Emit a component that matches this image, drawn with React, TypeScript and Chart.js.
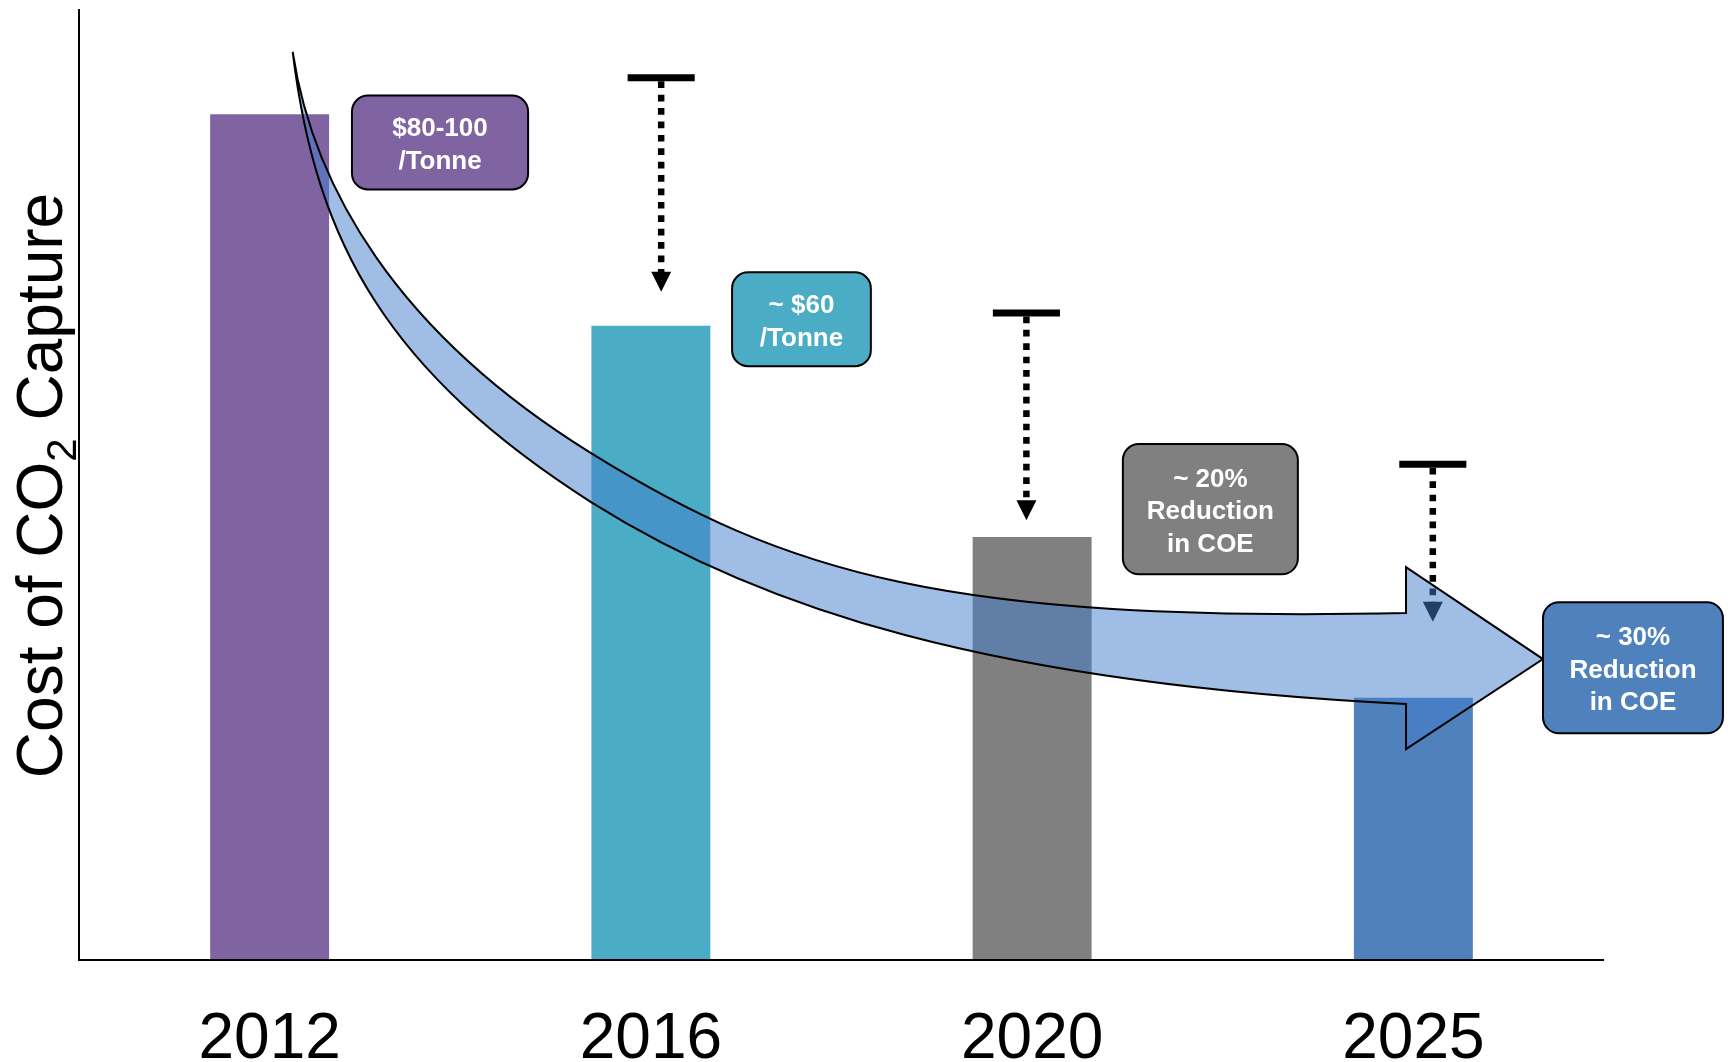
import React, { useEffect, useRef } from 'react';
import { Chart, registerables } from 'chart.js';

Chart.register(...registerables);

// ---- data ----
const categories = ['2012', '2016', '2020', '2025'];
const costValues = [100, 75, 50, 31];
const barColors = ['#8064A2', '#4BACC6', '#808080', '#4F81BD'];
const calloutTexts = [
  ['$80-100', '/Tonne'],
  ['~ $60', '/Tonne'],
  ['~ 20%', 'Reduction', 'in COE'],
  ['~ 30%', 'Reduction', 'in COE'],
];
const yTitleParts = ['Cost of CO', '2', ' Capture'];

// ---- annotation geometry, in (category index, value) units ----
const calloutBoxes = [
  { i0: 0.216, i1: 0.678, vTop: 102.2, vBot: 91.1 },
  { i0: 1.213, i1: 1.577, vTop: 81.3, vBot: 70.2 },
  { i0: 2.238, i1: 2.697, vTop: 61.0, vBot: 45.6 },
  { i0: 3.34, i1: 3.812, vTop: 42.3, vBot: 26.8 },
];
const targetMarks = [
  { i: 1.027, half: 0.088, vTop: 104.3, vTip: 79.0 },
  { i: 1.985, half: 0.088, vTop: 76.5, vTip: 52.0 },
  { i: 3.051, half: 0.088, vTop: 58.6, vTip: 40.0 },
];
// upper edge: start, then two cubic segments [c1, c2, end]
const arrowStart = [0.0605, 107.36];
const arrowUpperSegs = [
  [[0.1133, 91.56], [0.3296, 74.27], [0.843, 59.93]],
  [[1.357, 45.57], [1.7775, 39.93], [2.9807, 41.02]],
];
// lower edge, drawn from the arrow end back to the start
const arrowLowerEnd = [2.9807, 30.26];
const arrowLowerSegsBack = [
  [[1.8845, 32.73], [1.2852, 41.58], [0.843, 54.14]],
  [[0.3144, 69.39], [0.1214, 84.52], [0.0605, 107.36]],
];
const arrowHead = { i: 2.9807, vNotchTop: 46.45, vNotchBot: 24.94, tipI: 3.34, tipV: 35.58 };

const FONT = "'Liberation Sans', Arial, Helvetica, sans-serif";

const annotationPlugin = {
  id: 'annotations',
  afterDatasetsDraw(chart: any) {
    const { ctx, chartArea: ca } = chart;
    const xs = chart.scales.x;
    const ys = chart.scales.y;
    const px = (i: number) => xs.getPixelForValue(i);
    const py = (v: number) => ys.getPixelForValue(v);

    ctx.save();

    // axes lines
    ctx.strokeStyle = '#000';
    ctx.lineWidth = 2;
    ctx.beginPath();
    ctx.moveTo(ca.left, ca.top - 2);
    ctx.lineTo(ca.left, ca.bottom);
    ctx.lineTo(ca.right, ca.bottom);
    ctx.stroke();

    // x labels
    ctx.fillStyle = '#000';
    ctx.font = `64px ${FONT}`;
    ctx.textAlign = 'center';
    ctx.textBaseline = 'alphabetic';
    categories.forEach((c, i) => ctx.fillText(c, px(i), ca.bottom + 98));

    // y title with subscript
    ctx.save();
    ctx.translate(62, (ca.top + ca.bottom) / 2);
    ctx.rotate(-Math.PI / 2);
    ctx.textAlign = 'left';
    const mainFont = `64px ${FONT}`;
    const subFont = `42px ${FONT}`;
    ctx.font = mainFont;
    const w0 = ctx.measureText(yTitleParts[0]).width;
    const w2 = ctx.measureText(yTitleParts[2]).width;
    ctx.font = subFont;
    const w1 = ctx.measureText(yTitleParts[1]).width;
    const total = w0 + w1 + w2;
    let cx = -total / 2;
    ctx.font = mainFont;
    ctx.fillText(yTitleParts[0], cx, 0);
    cx += w0;
    ctx.font = subFont;
    ctx.fillText(yTitleParts[1], cx, 14);
    cx += w1;
    ctx.font = mainFont;
    ctx.fillText(yTitleParts[2], cx, 0);
    ctx.restore();

    // target markers with dotted arrows
    targetMarks.forEach((m) => {
      const x = px(m.i);
      const yT = py(m.vTop);
      const yTip = py(m.vTip);
      ctx.strokeStyle = '#000';
      ctx.fillStyle = '#000';
      ctx.lineWidth = 7;
      ctx.setLineDash([]);
      ctx.beginPath();
      ctx.moveTo(px(m.i - m.half), yT);
      ctx.lineTo(px(m.i + m.half), yT);
      ctx.stroke();
      ctx.lineWidth = 6.5;
      ctx.setLineDash([6.7, 6.7]);
      ctx.beginPath();
      ctx.moveTo(x, yT + 3.5);
      ctx.lineTo(x, yTip - 19);
      ctx.stroke();
      ctx.setLineDash([]);
      ctx.beginPath();
      ctx.moveTo(x - 10, yTip - 20);
      ctx.lineTo(x + 10, yTip - 20);
      ctx.lineTo(x, yTip);
      ctx.closePath();
      ctx.fill();
    });

    // big curved arrow
    const bez = (seg: number[][]) =>
      ctx.bezierCurveTo(px(seg[0][0]), py(seg[0][1]), px(seg[1][0]), py(seg[1][1]), px(seg[2][0]), py(seg[2][1]));
    ctx.beginPath();
    ctx.moveTo(px(arrowStart[0]), py(arrowStart[1]));
    arrowUpperSegs.forEach(bez);
    ctx.lineTo(px(arrowHead.i), py(arrowHead.vNotchTop));
    ctx.lineTo(px(arrowHead.tipI), py(arrowHead.tipV));
    ctx.lineTo(px(arrowHead.i), py(arrowHead.vNotchBot));
    ctx.lineTo(px(arrowLowerEnd[0]), py(arrowLowerEnd[1]));
    arrowLowerSegsBack.forEach(bez);
    ctx.closePath();
    ctx.fillStyle = 'rgba(66,126,204,0.5)';
    ctx.fill();
    ctx.strokeStyle = '#000';
    ctx.lineWidth = 2;
    ctx.lineJoin = 'miter';
    ctx.stroke();

    // callout boxes
    calloutBoxes.forEach((b, k) => {
      const x0 = px(b.i0);
      const x1 = px(b.i1);
      const y0 = py(b.vTop);
      const y1 = py(b.vBot);
      ctx.beginPath();
      (ctx as any).roundRect(x0, y0, x1 - x0, y1 - y0, 16);
      ctx.fillStyle = barColors[k];
      ctx.fill();
      ctx.strokeStyle = '#000';
      ctx.lineWidth = 2;
      ctx.stroke();
      const lines = calloutTexts[k];
      const cxm = (x0 + x1) / 2;
      const cym = (y0 + y1) / 2 + 3;
      const lh = 32.5;
      ctx.fillStyle = '#fff';
      ctx.font = `bold 26px ${FONT}`;
      ctx.textAlign = 'center';
      ctx.textBaseline = 'middle';
      lines.forEach((t, j) => {
        ctx.fillText(t, cxm, cym + (j - (lines.length - 1) / 2) * lh);
      });
    });

    ctx.restore();
  },
};

export default function App() {
  const canvasRef = useRef<HTMLCanvasElement | null>(null);

  useEffect(() => {
    document.body.style.margin = '0';
    const canvas = canvasRef.current;
    if (!canvas) return;
    const chart = new Chart(canvas, {
      type: 'bar',
      data: {
        labels: categories,
        datasets: [
          {
            data: costValues,
            backgroundColor: barColors,
            borderWidth: 0,
            barPercentage: 0.312,
            categoryPercentage: 1,
          },
        ],
      },
      options: {
        responsive: false,
        animation: false,
        layout: { padding: { left: 79, top: 11, right: 128, bottom: 102 } },
        scales: {
          x: { display: false, offset: true },
          y: { display: false, min: 0, max: 112.2 },
        },
        plugins: {
          legend: { display: false },
          tooltip: { enabled: false },
        },
      },
      plugins: [annotationPlugin],
    });
    return () => chart.destroy();
  }, []);

  return (
    <div style={{ width: 1732, height: 1062, background: '#fff' }}>
      <canvas ref={canvasRef} width={1732} height={1062} style={{ display: 'block' }} />
    </div>
  );
}
